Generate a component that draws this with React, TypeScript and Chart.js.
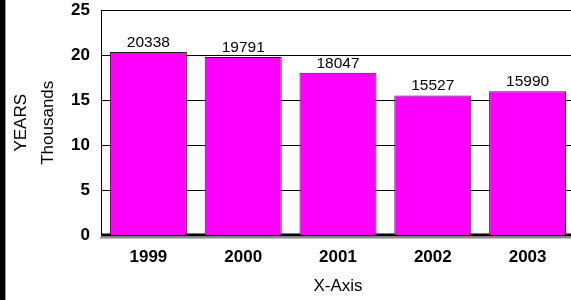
import React, { useEffect, useRef } from "react";
import { Chart, registerables } from "chart.js";

Chart.register(...registerables);

const categories = ["1999", "2000", "2001", "2002", "2003"];
const values = [20338, 19791, 18047, 15527, 15990];
const yTickValues = [0, 5000, 10000, 15000, 20000, 25000];
const yTitle = ["YEARS", "Thousands"];
const xTitle = "X-Axis";

const FONT = "'Liberation Sans', Arial, sans-serif";

const decorPlugin = {
  id: "decor",
  beforeDraw(chart: any) {
    const ctx = chart.ctx;
    ctx.save();
    ctx.fillStyle = "#000";
    ctx.fillRect(0, 0, 5, chart.height);
    ctx.fillStyle = "#999";
    ctx.fillRect(5, 0, 1, chart.height);
    ctx.restore();
  },
  beforeDatasetsDraw(chart: any) {
    const { ctx, chartArea } = chart;
    ctx.save();
    ctx.fillStyle = "#000";
    ctx.fillRect(chartArea.left, chartArea.bottom - 2, chartArea.right - chartArea.left, 3);
    ctx.restore();
  },
  afterDatasetsDraw(chart: any) {
    const { ctx, chartArea } = chart;
    ctx.save();
    ctx.fillStyle = "#8a8a8a";
    ctx.fillRect(chartArea.left - 1, chartArea.bottom + 1.5, chartArea.right - chartArea.left + 1, 1.5);
    const meta = chart.getDatasetMeta(0);
    ctx.fillStyle = "#000";
    ctx.font = `15.5px ${FONT}`;
    ctx.textAlign = "center";
    ctx.textBaseline = "alphabetic";
    meta.data.forEach((bar: any, i: number) => {
      ctx.fillText(String(values[i]), bar.x, bar.y - 5);
    });
    ctx.restore();
  },
};

export default function App() {
  const ref = useRef<HTMLCanvasElement | null>(null);
  useEffect(() => {
    if (!ref.current) return;
    const chart = new Chart(ref.current, {
      type: "bar",
      data: {
        labels: categories,
        datasets: [
          {
            data: values,
            backgroundColor: "#ff00ff",
            borderColor: "#222",
            borderWidth: 1,
            barPercentage: 0.812,
            categoryPercentage: 1,
          },
        ],
      },
      options: {
        responsive: false,
        animation: false,
        layout: { padding: { top: 10, left: 0, right: 0, bottom: 0 } },
        plugins: {
          legend: { display: false },
          tooltip: { enabled: false },
        },
        scales: {
          x: {
            grid: { display: false, drawTicks: false },
            border: { display: false },
            ticks: {
              color: "#000",
              font: { family: FONT, size: 17, weight: "bold" },
              padding: 12,
            },
            title: {
              display: true,
              text: xTitle,
              color: "#000",
              font: { family: FONT, size: 17, weight: "normal" },
              padding: { top: 0, bottom: 3 },
            },
            afterFit(scale: any) {
              scale.height = 64.5;
              scale.paddingLeft = 0;
              scale.paddingRight = 0;
            },
          },
          y: {
            min: 0,
            max: 25000,
            afterBuildTicks(scale: any) {
              scale.ticks = yTickValues.map((v) => ({ value: v }));
            },
            grid: { color: "#000", lineWidth: 1, drawTicks: false },
            border: { display: true, color: "#000", width: 1 },
            ticks: {
              color: "#000",
              font: { family: FONT, size: 17, weight: "bold" },
              padding: 11,
              callback: (v: any) => String(Number(v) / 1000),
            },
            title: {
              display: true,
              text: yTitle,
              color: "#000",
              font: { family: FONT, size: 17, weight: "normal", lineHeight: 1.6 },
              padding: { top: 8, bottom: 0 },
            },
            afterFit(scale: any) {
              scale.width = 101;
              scale.paddingTop = 0;
              scale.paddingBottom = 0;
            },
          },
        },
      },
      plugins: [decorPlugin],
    } as any);
    return () => chart.destroy();
  }, []);
  return (
    <div
      style={{
        position: "absolute",
        left: 0,
        top: 0,
        width: 571,
        height: 300,
        overflow: "hidden",
        background: "#fff",
      }}
    >
      <canvas ref={ref} width={575} height={300} style={{ display: "block" }} />
    </div>
  );
}
